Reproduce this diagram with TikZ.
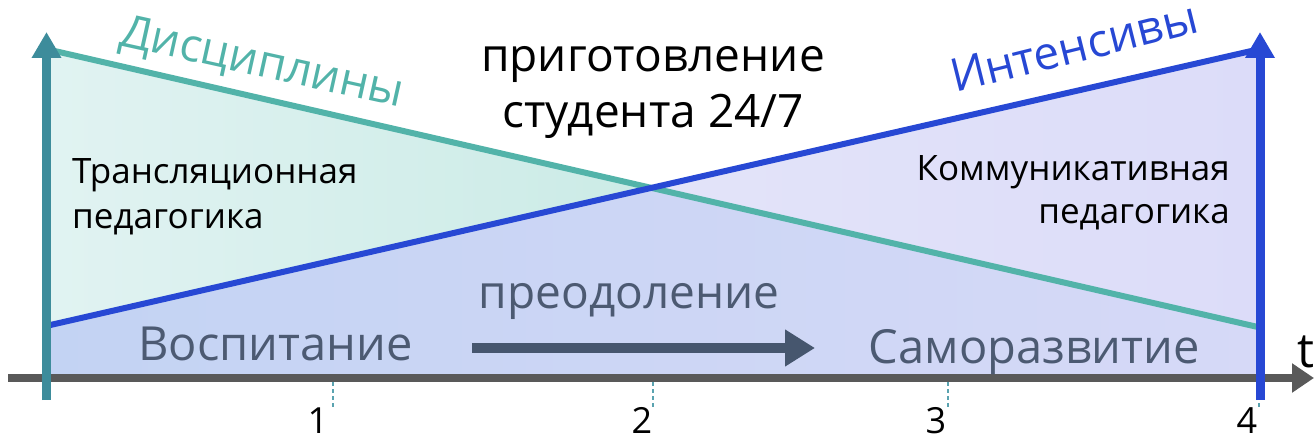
\documentclass[tikz,border=0pt]{standalone}
\usepackage{fontspec}
\setmainfont{Open Sans}
\usetikzlibrary{arrows.meta,calc}

\definecolor{axisteal}{HTML}{3D8C9B}
\definecolor{lineteal}{HTML}{52B3A9}
\definecolor{lineblue}{HTML}{2748D4}
\definecolor{axisgray}{HTML}{595959}
\definecolor{slate}{HTML}{46566E}
\definecolor{slatetext}{HTML}{4C5A72}
\definecolor{tickcol}{HTML}{5AA3B0}
\definecolor{tealA}{HTML}{E1F3F2}
\definecolor{tealB}{HTML}{CBEBE6}
\definecolor{lavA}{HTML}{E3E4F9}
\definecolor{lavB}{HTML}{DCDCF9}
\definecolor{baseA}{HTML}{C3D3F3}
\definecolor{baseB}{HTML}{C4DCEC}
\definecolor{baseC}{HTML}{D6D9F7}

\tikzset{
  fs/.style={font=\fontsize{#1}{#1}\selectfont},
  vaxis/.style={line width=9pt,-{Triangle[length=26pt,width=28pt]}},
  trend/.style={line width=6pt},
  tickmark/.style={tickcol,line width=1.3pt,dash pattern=on 4pt off 3pt},
  numlabel/.style={fs=36,anchor=base,inner sep=0pt},
  phase/.style={fs=47,text=slatetext,anchor=base,inner sep=0pt},
  region/.style={fs=35,anchor=base west,inner sep=0pt},
}

\begin{document}
\begin{tikzpicture}[x=1pt,y=-1pt]
\useasboundingbox (0,0) rectangle (1314,441);

% end points of the two trend lines and the vertical axes
\coordinate (tl) at (46,49);
\coordinate (tr) at (1260,327.5);
\coordinate (bl) at (46,326);
\coordinate (br) at (1260,49);
\coordinate (x) at (intersection of tl--tr and bl--br);
\coordinate (floorL) at (46,378);
\coordinate (floorR) at (1260,378);

% filled areas
\shade[left color=tealA, right color=tealB]
  (tl) -- (x) -- (bl) -- cycle;
\shade[left color=lavA, right color=lavB]
  (x) -- (br) -- (tr) -- cycle;
\shade[left color=baseA, middle color=baseB, right color=baseC]
  (bl) -- (x) -- (tr) -- (floorR) -- (floorL) -- cycle;

% tick marks under the time axis
\foreach \n/\xx in {1/333,2/653,3/948,4/1259}{
  \coordinate (tk\n a) at (\xx,382);
  \coordinate (tk\n b) at (\xx,408);
  \draw[tickmark] (tk\n a) -- (tk\n b);
}

% time axis
\coordinate (t0) at (8,378);
\coordinate (t1) at (1314,378);
\draw[axisgray,line width=8pt,-{Triangle[length=22pt,width=28pt]}] (t0) -- (t1);

% trend lines
\draw[trend,lineteal] (tl) -- (tr);
\draw[trend,lineblue] (bl) -- (br);

% vertical axes
\coordinate (la0) at (46.5,400);
\coordinate (la1) at (46.5,32);
\coordinate (ra0) at (1260,400);
\coordinate (ra1) at (1260,32);
\draw[vaxis,axisteal] (la0) -- (la1);
\draw[vaxis,lineblue] (ra0) -- (ra1);

% line labels
\node[fs=46,text=lineteal,anchor=base west,inner sep=0pt,rotate=-12.5]
  (disc) at (118,45) {Дисциплины};
\node[fs=46,text=lineblue,anchor=base west,inner sep=0pt,rotate=14]
  (int) at (955,93) {Интенсивы};

% title
\node[fs=46,anchor=base,inner sep=0pt] (title1) at (653,72) {приготовление};
\node[fs=46,anchor=base,inner sep=0pt] (title2) at (653,128) {студента 24/7};

% pedagogy regions
\node[region] (tr1) at (72,183) {Трансляционная};
\node[region] (tr2) at (72,228) {педагогика};
\node[fs=35,anchor=base east,inner sep=0pt] (km1) at (1230,180) {Коммуникативная};
\node[fs=35,anchor=base east,inner sep=0pt] (km2) at (1230,223) {педагогика};

% phases along the time axis
\node[phase,anchor=base west] (vos) at (138,360) {Воспитание};
\node[phase,anchor=base east] (sam) at (1200,363) {Саморазвитие};
\node[fs=46,text=slatetext,anchor=base,inner sep=0pt] (preo) at (629,308) {преодоление};
\coordinate (pa0) at (472,348);
\coordinate (pa1) at (815,348);
\draw[slate,line width=10pt,-{Triangle[length=30pt,width=35pt]}] (pa0) -- (pa1);

% axis labels
\node[numlabel] (n1) at (318,433) {1};
\node[numlabel] (n2) at (642,433) {2};
\node[numlabel] (n3) at (936,433) {3};
\node[numlabel] (n4) at (1247,433) {4};
\node[fs=48,anchor=base,inner sep=0pt] (tt) at (1306,367) {t};
\end{tikzpicture}
\end{document}
